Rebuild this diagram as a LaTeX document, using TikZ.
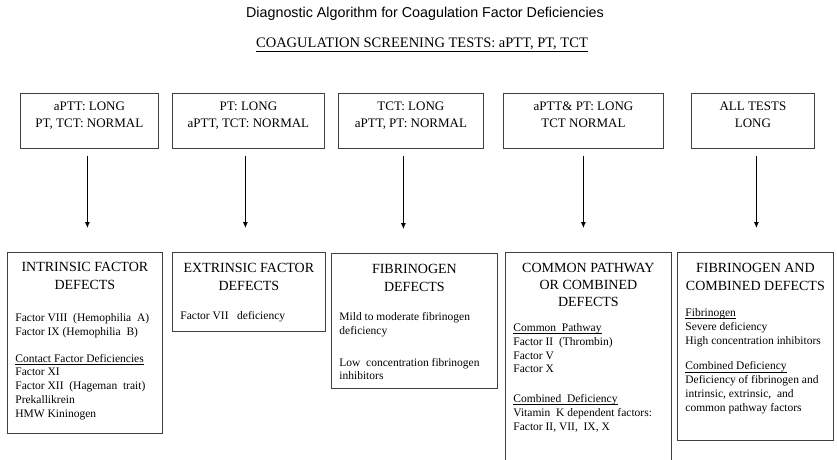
\documentclass[tikz,border=0pt]{standalone}
\usepackage{fontspec}
\setmainfont{Liberation Serif}
\newfontfamily\headfont{Liberation Sans}
\usetikzlibrary{positioning, arrows.meta}

\newcommand{\boxbody}[3]{\parbox[c][#2][t]{#1}{#3}}
\newcommand{\boxtitle}[1]{{\centering\fontsize{14}{17.5}\selectfont #1\par}}
\newcommand{\subhead}[1]{\leavevmode\setbox0\hbox{#1}\rlap{\rule[-2.2pt]{\wd0}{0.6pt}}\box0}

\begin{document}
\begin{tikzpicture}[x=1pt, y=-1pt,
    arrow/.style={-{Latex[length=6pt, width=5pt]}, line width=0.8pt, shorten <=7pt, shorten >=24pt},
    testbox/.style={draw=black!75, line width=0.8pt, anchor=north west, inner xsep=5pt, inner ysep=0pt, font=\fontsize{13}{17}\selectfont},
    defectbox/.style={draw=black!75, line width=0.8pt, anchor=north west, inner xsep=8pt, inner ysep=0pt, font=\fontsize{11.5}{13.7}\selectfont}
]
    \useasboundingbox (0,0) rectangle (837,459);

    % Heading
    \node[font=\headfont\fontsize{14.3}{17}\selectfont] (title) at (425,14) {Diagnostic Algorithm for Coagulation Factor Deficiencies};
    \node[font=\fontsize{14.5}{17}\selectfont] (screen) at (422,45) {\underline{COAGULATION SCREENING TESTS: aPTT, PT, TCT}};

    % Screening results
    \node[testbox] (t1) at (20,93) {\boxbody{128pt}{55pt}{\centering\vspace*{8pt}aPTT: LONG\\PT, TCT: NORMAL}};
    \node[testbox] (t2) at (172,93) {\boxbody{142pt}{55pt}{\centering\vspace*{8pt}PT: LONG\\aPTT, TCT: NORMAL}};
    \node[testbox] (t3) at (338,93) {\boxbody{135pt}{55pt}{\centering\vspace*{8pt}TCT: LONG\\aPTT, PT: NORMAL}};
    \node[testbox] (t4) at (503,93) {\boxbody{150pt}{55pt}{\centering\vspace*{8pt}aPTT\& PT: LONG\\TCT NORMAL}};
    \node[testbox] (t5) at (691,93) {\boxbody{113pt}{55pt}{\centering\vspace*{8pt}ALL TESTS\\LONG}};

    % Defect groups
    \node[defectbox] (d1) at (7,252) {\boxbody{139pt}{181pt}{\vspace*{10pt}\boxtitle{INTRINSIC FACTOR\\DEFECTS}\vspace{19pt}
        Factor VIII\ \ (Hemophilia\ \ A)\\
        Factor IX (Hemophilia\ \ B)\\[13pt]
        \subhead{Contact Factor Deficiencies}\\
        Factor XI\\
        Factor XII\ \ (Hageman\ \ trait)\\
        Prekallikrein\\
        HMW Kininogen}};
    \node[defectbox] (d2) at (172,252) {\boxbody{137pt}{79pt}{\vspace*{11pt}\boxtitle{EXTRINSIC FACTOR\\DEFECTS}\vspace{16pt}
        Factor VII\ \ \ deficiency}};
    \node[defectbox] (d3) at (331,253) {\boxbody{150pt}{135pt}{\vspace*{11pt}\boxtitle{FIBRINOGEN\\DEFECTS}\vspace{16pt}
        Mild to moderate fibrinogen\\
        deficiency\\[18pt]
        Low\ \ concentration fibrinogen\\
        inhibitors}};
    \node[defectbox] (d4) at (505,252) {\boxbody{150pt}{225pt}{\vspace*{11pt}\boxtitle{COMMON PATHWAY\\[-0.5pt]OR COMBINED\\[-0.5pt]DEFECTS}\vspace{11.5pt}
        \subhead{Common\ \ Pathway}\\
        Factor II\ \ (Thrombin)\\
        Factor V\\
        Factor X\\[16pt]
        \subhead{Combined\ \ Deficiency}\\
        Vitamin\ \ K dependent factors:\\
        Factor II, VII,\ \ IX, X}};
    \node[defectbox] (d5) at (677,252) {\boxbody{140pt}{188pt}{\vspace*{11pt}\boxtitle{FIBRINOGEN AND\\COMBINED DEFECTS}\vspace{13pt}
        \subhead{Fibrinogen}\\
        Severe deficiency\\
        High concentration inhibitors\\[12pt]
        \subhead{Combined Deficiency}\\
        Deficiency of fibrinogen and\\
        intrinsic, extrinsic,\ \ and\\
        common pathway factors}};

    % Arrows from results to defects
    \foreach \i/\a/\b in {1/-2/2.5, 2/-3/-3.5, 3/-7.5/-11, 4/0/-5, 5/3.5/1}
        \draw[arrow] ([xshift=\a pt]t\i.south) -- ([xshift=\b pt]d\i.north);

\end{tikzpicture}
\end{document}
